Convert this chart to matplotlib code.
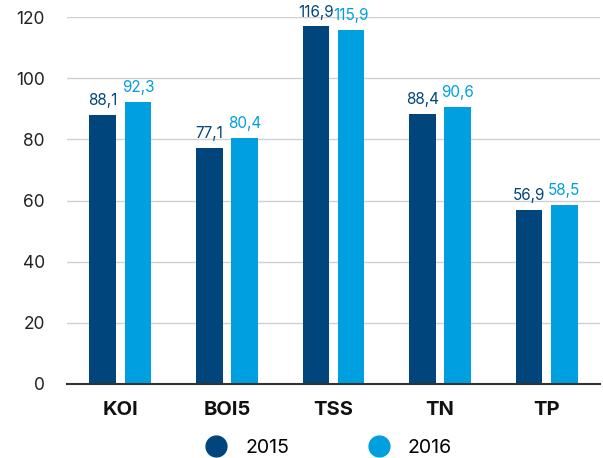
import matplotlib
matplotlib.use("Agg")
import matplotlib.pyplot as plt
from matplotlib.lines import Line2D
import numpy as np

plt.rcParams['font.family'] = ['Inter', 'DejaVu Sans']

categories = ["KOI", "BOI5", "TSS", "TN", "TP"]
series_names = ["2015", "2016"]
values_2015 = [88.1, 77.1, 116.9, 88.4, 56.9]
values_2016 = [92.3, 80.4, 115.9, 90.6, 58.5]
yticks = [0, 20, 40, 60, 80, 100, 120]

c15 = "#00467C"
c16 = "#009FE0"

fig = plt.figure(figsize=(6.03, 4.58), dpi=100)
ax = fig.add_axes([67/603, 1 - 384/458, 533/603, (384 - 17)/458])

x = np.arange(len(categories))
w = 0.25
off = 0.165
ax.bar(x - off, values_2015, w, color=c15, zorder=3)
ax.bar(x + off, values_2016, w, color=c16, zorder=3)

def fmt(v):
    return f"{v:.1f}".replace(".", ",")

for xi, v in zip(x, values_2015):
    ax.text(xi - off, v + 2.2, fmt(v), ha="center", va="bottom", color=c15, fontsize=11)
for xi, v in zip(x, values_2016):
    ax.text(xi + off, v + 2.2, fmt(v), ha="center", va="bottom", color=c16, fontsize=11)

ax.set_xlim(-0.5, len(categories) - 0.5)
ax.set_ylim(0, 120)
ax.set_yticks(yticks)
ax.set_yticklabels([str(t) for t in yticks], fontsize=12.5, color="#222222")
ax.set_xticks(x)
ax.set_xticklabels(categories, fontsize=14.5, fontweight="bold", color="#111111")
ax.tick_params(axis="y", length=0, pad=16)
ax.tick_params(axis="x", length=0, pad=12)
ax.yaxis.grid(True, color="#D0D0D0", linewidth=1, zorder=0)
for s in ["top", "right", "left"]:
    ax.spines[s].set_visible(False)
ax.spines["bottom"].set_color("#333333")
ax.spines["bottom"].set_linewidth(1.5)
ax.spines["bottom"].set_zorder(4)

handles = [Line2D([], [], marker="o", linestyle="none", markersize=15, color=c15),
           Line2D([], [], marker="o", linestyle="none", markersize=15, color=c16)]
fig.legend(handles, series_names, loc="lower center", bbox_to_anchor=(0.538, -0.035),
           ncol=2, frameon=False, fontsize=14, columnspacing=3.6, handletextpad=0.5)

fig.savefig("out.png", dpi=100)
